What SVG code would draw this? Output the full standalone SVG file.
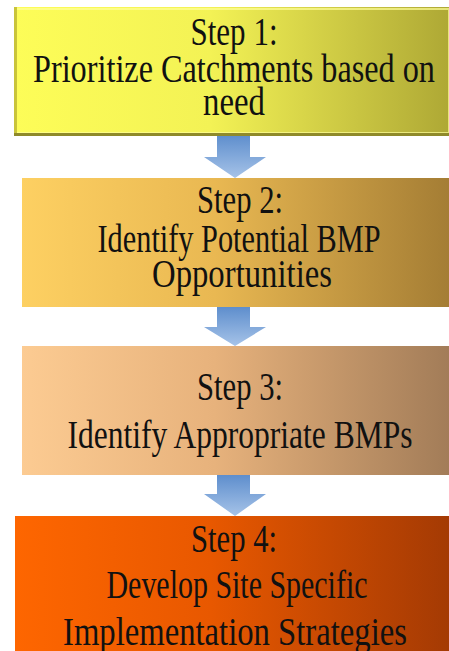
<svg xmlns="http://www.w3.org/2000/svg" width="449" height="651" viewBox="0 0 449 651">
<defs>
<linearGradient id="g1" x1="0" y1="0" x2="1" y2="0"><stop offset="0" stop-color="#fdfd58"/><stop offset="0.45" stop-color="#f3f255"/><stop offset="1" stop-color="#aea835"/></linearGradient>
<linearGradient id="g2" x1="0" y1="0" x2="1" y2="0"><stop offset="0" stop-color="#fdd062"/><stop offset="0.45" stop-color="#e9b852"/><stop offset="1" stop-color="#a47d34"/></linearGradient>
<linearGradient id="g3" x1="0" y1="0" x2="1" y2="0"><stop offset="0" stop-color="#fccb92"/><stop offset="0.45" stop-color="#e7b27c"/><stop offset="1" stop-color="#a27c58"/></linearGradient>
<linearGradient id="g4" x1="0" y1="0" x2="1" y2="0"><stop offset="0" stop-color="#fe6600"/><stop offset="0.45" stop-color="#e85800"/><stop offset="1" stop-color="#a43a04"/></linearGradient>
<linearGradient id="ga" x1="0" y1="0" x2="0" y2="1"><stop offset="0" stop-color="#5e8ecd"/><stop offset="1" stop-color="#a6c3e8"/></linearGradient>
</defs>
<style>
text{font-family:"Liberation Serif","Times New Roman",serif;font-size:39px;fill:#111;text-anchor:middle}
</style>
<g id="connectors">
<polygon points="217,135 250,135 250,157 266,157 235,178 204,157 217,157" fill="url(#ga)"/>
<polygon points="217,307 250,307 250,327 266,327 235,346 204,327 217,327" fill="url(#ga)"/>
<polygon points="217,475 250,475 250,494 266,494 235,516 204,494 217,494" fill="url(#ga)"/>
</g>
<g id="step1">
<rect x="14" y="7" width="436" height="129" fill="url(#g1)"/>
<rect x="16" y="9" width="433" height="124" fill="none" stroke="#ffff9a" stroke-width="2" opacity="0.7"/>
<rect x="14" y="7" width="3" height="129" fill="#c9c43a"/>
<rect x="14" y="133" width="436" height="3" fill="#8f8a2a"/>
<text x="234" y="45" textLength="87" lengthAdjust="spacingAndGlyphs">Step 1:</text>
<text x="234" y="82" textLength="402" lengthAdjust="spacingAndGlyphs">Prioritize Catchments based on</text>
<text x="234" y="115" textLength="62" lengthAdjust="spacingAndGlyphs">need</text>
</g>
<g id="step2">
<rect x="22" y="178" width="428" height="129" fill="url(#g2)"/>
<text x="240" y="213" textLength="86" lengthAdjust="spacingAndGlyphs">Step 2:</text>
<text x="239" y="252" textLength="283" lengthAdjust="spacingAndGlyphs">Identify Potential BMP</text>
<text x="242" y="287" textLength="180" lengthAdjust="spacingAndGlyphs">Opportunities</text>
</g>
<g id="step3">
<rect x="22" y="346" width="428" height="129" fill="url(#g3)"/>
<text x="240" y="400" textLength="86" lengthAdjust="spacingAndGlyphs">Step 3:</text>
<text x="240" y="448" textLength="345" lengthAdjust="spacingAndGlyphs">Identify Appropriate BMPs</text>
</g>
<g id="step4">
<rect x="15" y="516" width="435" height="136" fill="url(#g4)"/>
<text x="234" y="552" textLength="86" lengthAdjust="spacingAndGlyphs">Step 4:</text>
<text x="237" y="598" textLength="261" lengthAdjust="spacingAndGlyphs">Develop Site Specific</text>
<text x="235" y="645" textLength="344" lengthAdjust="spacingAndGlyphs">Implementation Strategies</text>
</g>
</svg>
